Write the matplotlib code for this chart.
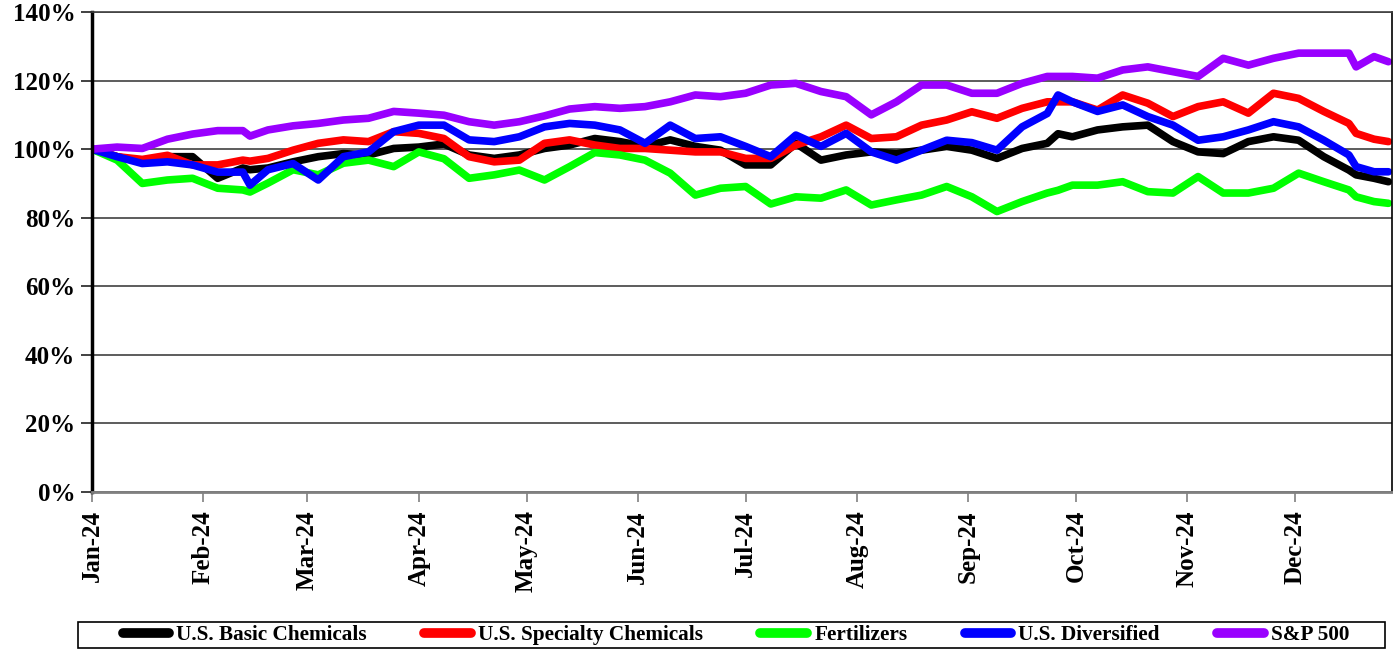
import matplotlib
matplotlib.use('Agg')
import matplotlib.pyplot as plt
import matplotlib.dates as mdates
import matplotlib.patches as patches
from matplotlib.ticker import FuncFormatter, MultipleLocator
import pandas as pd

plt.rcParams['font.family'] = ['Liberation Serif', 'DejaVu Serif']
plt.rcParams['font.weight'] = 'bold'

# ── Data (indexed to 100% on Jan 1 2024, ~weekly readings) ──
dates = pd.to_datetime([
    '2024-01-01', '2024-01-08', '2024-01-15', '2024-01-22', '2024-01-29',
    '2024-02-05', '2024-02-12', '2024-02-14', '2024-02-19', '2024-02-26',
    '2024-03-04', '2024-03-11', '2024-03-18', '2024-03-25', '2024-04-01',
    '2024-04-08', '2024-04-15', '2024-04-22', '2024-04-29', '2024-05-06',
    '2024-05-13', '2024-05-20', '2024-05-27', '2024-06-03', '2024-06-10',
    '2024-06-17', '2024-06-24', '2024-07-01', '2024-07-08', '2024-07-15',
    '2024-07-22', '2024-07-29', '2024-08-05', '2024-08-12', '2024-08-19',
    '2024-08-26', '2024-09-02', '2024-09-09', '2024-09-16', '2024-09-23',
    '2024-09-26', '2024-09-30', '2024-10-07', '2024-10-14', '2024-10-21',
    '2024-10-28', '2024-11-04', '2024-11-11', '2024-11-18', '2024-11-25',
    '2024-12-02', '2024-12-09', '2024-12-16', '2024-12-18', '2024-12-23',
    '2024-12-27'])

basic = [100, 97.8, 96.3, 97.8, 97.8,
         91.5, 94.5, 94, 94.5, 96.3,
         97.8, 98.7, 98.3, 100.2, 100.6,
         101.5, 98.3, 97.3, 98.3, 100.2,
         101.2, 103.1, 102.2, 100.8, 102.7,
         100.8, 99.7, 95.4, 95.4, 101.7,
         96.8, 98.3, 99.2, 98.7, 99.7,
         100.8, 99.7, 97.3, 100.2, 101.7,
         104.5, 103.6, 105.6, 106.5, 107,
         102.2, 99.2, 98.7, 102.2, 103.6,
         102.6, 97.8, 93.9, 92.5, 91.5,
         90.5]
specialty = [100, 97.8, 97, 98.2, 95.4,
             95.4, 96.8, 96.5, 97.3, 99.7,
             101.7, 102.7, 102.2, 105.1, 104.6,
             103.1, 97.8, 96.3, 96.8, 101.7,
             102.7, 101.2, 100.2, 100.2, 99.7,
             99.2, 99.2, 97.3, 97.3, 101.2,
             103.6, 107, 103.1, 103.6, 107,
             108.5, 110.9, 109, 111.9, 113.8,
             113.8, 113.8, 111.4, 115.8, 113.4,
             109.5, 112.4, 113.8, 110.5, 116.3,
             114.8, 111, 107.5, 104.6, 102.9,
             102.2]
fertilizers = [100, 96.8, 90, 91, 91.5,
               88.6, 88.1, 87.5, 90.1, 94,
               92.5, 95.9, 96.8, 94.9, 99.2,
               97.2, 91.5, 92.5, 93.9, 91,
               94.9, 99, 98.3, 96.8, 93,
               86.6, 88.6, 89.1, 84, 86.1,
               85.7, 88.1, 83.7, 85.2, 86.6,
               89.1, 86.1, 81.8, 84.7, 87.2,
               88, 89.5, 89.5, 90.5, 87.6,
               87.2, 92, 87.2, 87.2, 88.6,
               93, 90.5, 88.1, 86.1, 84.7,
               84.2]
diversified = [100, 97.8, 95.8, 96.3, 95.4,
               93.3, 93.3, 89.5, 94, 95.8,
               91, 97.8, 99.2, 105.1, 107,
               107, 102.7, 102.2, 103.6, 106.5,
               107.5, 107, 105.6, 101.7, 107,
               103.1, 103.6, 100.8, 97.8, 104.1,
               100.8, 104.6, 99.2, 96.8, 99.7,
               102.6, 101.9, 99.7, 106.5, 110.4,
               115.8, 113.8, 111, 112.9, 109.5,
               107, 102.6, 103.6, 105.6, 108,
               106.5, 102.6, 98.3, 94.9, 93.4,
               93.4]
sp500 = [100, 100.6, 100.2, 102.9, 104.4,
         105.4, 105.4, 103.8, 105.6, 106.8,
         107.5, 108.5, 109, 111, 110.5,
         109.9, 108, 107, 108, 109.7,
         111.7, 112.4, 111.9, 112.4, 113.8,
         115.8, 115.3, 116.3, 118.7, 119.2,
         116.8, 115.3, 110, 113.8, 118.7,
         118.7, 116.3, 116.3, 119.2, 121.2,
         121.2, 121.2, 120.7, 123.1, 124,
         122.6, 121.2, 126.5, 124.5, 126.5,
         128, 128, 128, 124, 127,
         125.5]

series = [
    ('U.S. Basic Chemicals', basic, '#000000'),
    ('U.S. Specialty Chemicals', specialty, '#FF0000'),
    ('Fertilizers', fertilizers, '#00FF00'),
    ('U.S. Diversified', diversified, '#0000FF'),
    ('S&P 500', sp500, '#9900FF'),
]

# ── Draw ──
fig = plt.figure(figsize=(13.93, 6.5), dpi=100)
ax = fig.add_axes([92 / 1393, 158 / 650, 1300 / 1393, 480 / 650])

for name, vals, col in series:
    ax.plot(dates, vals, color=col, lw=5.5, label=name,
            solid_joinstyle='round', solid_capstyle='round')

ax.set_ylim(0, 140)
ax.set_xlim(pd.Timestamp('2024-01-01'), pd.Timestamp('2024-12-28'))
ax.yaxis.set_major_locator(MultipleLocator(20))
ax.yaxis.set_major_formatter(FuncFormatter(lambda v, p: '{:.0f}%'.format(v)))
ax.grid(axis='y', color='#303030', lw=1.1)
ax.set_axisbelow(True)

ax.xaxis.set_major_locator(mdates.MonthLocator())
ax.xaxis.set_major_formatter(mdates.DateFormatter('%b-%y'))
for lbl in ax.get_xticklabels():
    lbl.set_rotation(90)
ax.tick_params(axis='x', labelsize=18, length=7, width=1.2, color='#808080', pad=6)
ax.tick_params(axis='y', labelsize=18, length=8, width=1.2, color='#202020', pad=4)

ax.spines['left'].set_linewidth(2.5)
ax.spines['left'].set_color('black')
ax.spines['bottom'].set_linewidth(2)
ax.spines['bottom'].set_color('#808080')
ax.spines['top'].set_linewidth(1.2)
ax.spines['top'].set_color('#404040')
ax.spines['right'].set_linewidth(1.2)
ax.spines['right'].set_color('black')

# ── Legend with box ──
fig.patches.append(patches.Rectangle((78 / 1393, 2 / 650), 1307 / 1393, 26 / 650,
                                     transform=fig.transFigure, facecolor='white',
                                     edgecolor='black', lw=1.2, zorder=0))
leg = fig.legend(loc='center', bbox_to_anchor=(736 / 1393, 15 / 650), ncol=5,
                 frameon=False, fontsize=15.3, handlelength=2.2, handletextpad=0.33,
                 columnspacing=2.7, borderpad=0)
for h in leg.legend_handles:
    h.set_linewidth(7)
    h.set_solid_capstyle('round')

fig.savefig('out.png', dpi=100, facecolor='white')
